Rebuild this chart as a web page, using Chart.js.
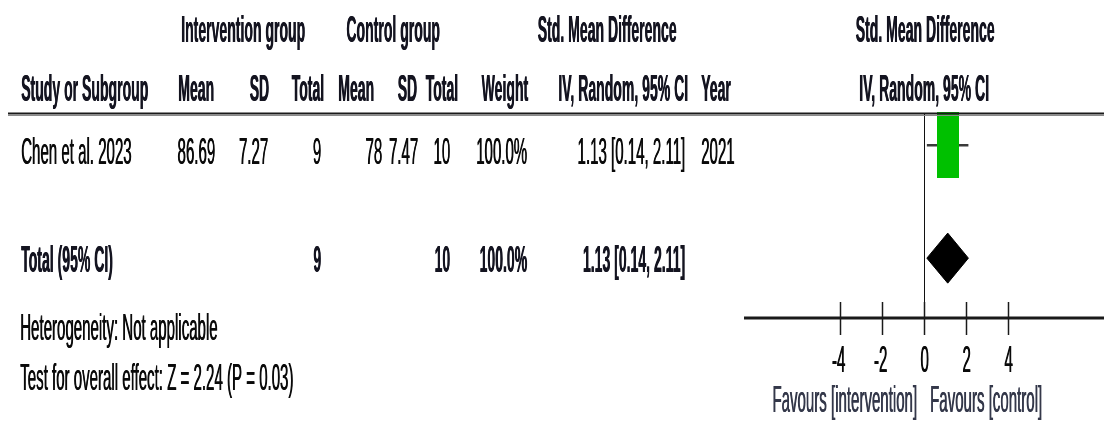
<!DOCTYPE html>
<html>
<head>
<meta charset="utf-8">
<title>Forest plot</title>
<script src="https://cdn.jsdelivr.net/npm/chart.js@4.4.0/dist/chart.umd.min.js"></script>
<style>
  html, body { margin: 0; padding: 0; background: #fff; }
</style>
</head>
<body>
<canvas id="forest" width="1104" height="429"></canvas>
<script>
// === data ===
const studies = ["Chen et al. 2023"];
const intMean = [86.69];
const intSD = [7.27];
const intTotal = [9];
const ctrlMean = [78];
const ctrlSD = [7.47];
const ctrlTotal = [10];
const weights = [100.0];
const smd = [1.13];
const ciLow = [0.14];
const ciHigh = [2.11];
const years = [2021];

// pooled (random effects) result
const totalLabel = "Total (95% CI)";
const totalInt = 9;
const totalCtrl = 10;
const totalWeight = 100.0;
const totalSmd = 1.13;
const totalLow = 0.14;
const totalHigh = 2.11;

const footerLines = ["Heterogeneity: Not applicable", "Test for overall effect: Z = 2.24 (P = 0.03)"];
const axisTicks = [-4, -2, 0, 2, 4];
const favours = ["Favours [intervention]", "Favours [control]"];

// === layout / style ===
const FONT = "'Liberation Sans', Arial, sans-serif";
const FONT_SIZE = 36;
const SQUISH = 0.418;        // regular text is very condensed in the original
const SQUISH_BOLD = 0.39;
const BOX_W = 22, BOX_H = 66;  // study square (weight 100%)
const DIAMOND_HALF = 0.443;    // in row units
const TOTAL_ROW = studies.length + 2;

function drawText(ctx, str, x, y, align, bold, color) {
  ctx.save();
  ctx.font = (bold ? "bold " : "") + FONT_SIZE + "px " + FONT;
  ctx.fillStyle = color || "#0a0a0a";
  ctx.textBaseline = "alphabetic";
  ctx.textAlign = align;
  ctx.translate(x, y);
  ctx.scale(bold ? SQUISH_BOLD : SQUISH, 1);
  ctx.fillText(str, 0, 0);
  // second pass a hair to the right: the original stems are a bit heavier
  ctx.fillText(str, bold ? 1.0 : 1.1, 0);
  ctx.restore();
}

function makeBox(w, h, color) {
  const c = document.createElement("canvas");
  c.width = w;
  c.height = h;
  const g = c.getContext("2d");
  g.fillStyle = color;
  g.fillRect(0, 0, w, h);
  return c;
}

const ciText = (m, l, h) => m.toFixed(2) + " [" + l.toFixed(2) + ", " + h.toFixed(2) + "]";

// table on the left + header lines
const tablePlugin = {
  id: "table",
  afterDraw(chart) {
    const ctx = chart.ctx;
    const H = "#141420";

    // header
    drawText(ctx, "Intervention group", 243, 42, "center", true, H);
    drawText(ctx, "Control group", 393, 42, "center", true, H);
    drawText(ctx, "Std. Mean Difference", 607, 42, "center", true, H);
    drawText(ctx, "Std. Mean Difference", 925, 42, "center", true, H);

    drawText(ctx, "Study or Subgroup", 21, 101, "left", true, H);
    drawText(ctx, "Mean", 214, 101, "right", true, H);
    drawText(ctx, "SD", 269, 101, "right", true, H);
    drawText(ctx, "Total", 324, 101, "right", true, H);
    drawText(ctx, "Mean", 374, 101, "right", true, H);
    drawText(ctx, "SD", 417, 101, "right", true, H);
    drawText(ctx, "Total", 458, 101, "right", true, H);
    drawText(ctx, "Weight", 528, 101, "right", true, H);
    drawText(ctx, "IV, Random, 95% CI", 688, 101, "right", true, H);
    drawText(ctx, "Year", 701, 101, "left", true, H);
    drawText(ctx, "IV, Random, 95% CI", 924, 101, "center", true, H);

    // double rule under the header
    ctx.save();
    ctx.strokeStyle = "#1a1a1a";
    ctx.lineWidth = 2;
    ctx.beginPath();
    ctx.moveTo(8, 113.5);
    ctx.lineTo(1104, 113.5);
    ctx.stroke();
    ctx.strokeStyle = "#8a8a8a";
    ctx.lineWidth = 1;
    ctx.beginPath();
    ctx.moveTo(8, 115.5);
    ctx.lineTo(1104, 115.5);
    ctx.stroke();
    ctx.restore();

    // study rows
    studies.forEach((name, i) => {
      const y = 164 + i * 56;
      drawText(ctx, name, 21, y, "left");
      drawText(ctx, String(intMean[i]), 215, y, "right");
      drawText(ctx, String(intSD[i]), 268, y, "right");
      drawText(ctx, String(intTotal[i]), 321, y, "right");
      drawText(ctx, String(ctrlMean[i]), 382, y, "right");
      drawText(ctx, String(ctrlSD[i]), 418, y, "right");
      drawText(ctx, String(ctrlTotal[i]), 450, y, "right");
      drawText(ctx, weights[i].toFixed(1) + "%", 527, y, "right");
      drawText(ctx, ciText(smd[i], ciLow[i], ciHigh[i]), 685, y, "right");
      drawText(ctx, String(years[i]), 701, y, "left");
    });

    // total row
    drawText(ctx, totalLabel, 21, 272, "left", true, H);
    drawText(ctx, String(totalInt), 321, 272, "right", true, H);
    drawText(ctx, String(totalCtrl), 450, 272, "right", true, H);
    drawText(ctx, totalWeight.toFixed(1) + "%", 527, 272, "right", true, H);
    drawText(ctx, ciText(totalSmd, totalLow, totalHigh), 685, 272, "right", true, H);

    // footer
    drawText(ctx, footerLines[0], 20, 340, "left");
    drawText(ctx, footerLines[1], 20, 390, "left");
  }
};

// zero line, axis, ticks and favours labels
const axisPlugin = {
  id: "forestAxis",
  beforeDatasetsDraw(chart) {
    const ctx = chart.ctx;
    const xs = chart.scales.x;
    const area = chart.chartArea;
    const x0 = Math.round(xs.getPixelForValue(0)) + 0.5;
    ctx.save();
    ctx.strokeStyle = "#111";
    ctx.lineWidth = 1;
    ctx.beginPath();
    ctx.moveTo(x0, area.top);
    ctx.lineTo(x0, area.bottom);
    ctx.stroke();
    ctx.restore();
  },
  afterDraw(chart) {
    const ctx = chart.ctx;
    const xs = chart.scales.x;
    const area = chart.chartArea;
    const yAxis = area.bottom;
    ctx.save();
    ctx.strokeStyle = "#1a1a1a";
    ctx.lineWidth = 3;
    ctx.beginPath();
    ctx.moveTo(area.left, yAxis);
    ctx.lineTo(1104, yAxis);
    ctx.stroke();

    ctx.lineWidth = 1.5;
    axisTicks.forEach((t) => {
      const px = Math.round(xs.getPixelForValue(t)) + 0.5;
      ctx.beginPath();
      ctx.moveTo(px, yAxis - 16);
      ctx.lineTo(px, yAxis + 17);
      ctx.stroke();
      drawText(ctx, String(t), px + (t < 0 ? -2 : 0), 372, "center");
    });
    ctx.restore();

    const x0 = xs.getPixelForValue(0);
    drawText(ctx, favours[0], x0 - 7, 412, "right", false, "#34384a");
    drawText(ctx, favours[1], x0 + 6, 412, "left", false, "#34384a");
  }
};

const squareData = smd.map((m, i) => ({ x: m, y: i + 1 }));
const whiskerSets = smd.map((m, i) => ({
  label: "CI " + studies[i],
  data: [{ x: ciLow[i], y: i + 1 }, { x: ciHigh[i], y: i + 1 }],
  borderColor: "#3a3a3a",
  borderWidth: 2.5,
  pointRadius: 0,
  order: 2,
}));

const diamondData = [
  { x: totalLow, y: TOTAL_ROW },
  { x: totalSmd, y: TOTAL_ROW - DIAMOND_HALF },
  { x: totalHigh, y: TOTAL_ROW },
  { x: totalSmd, y: TOTAL_ROW + DIAMOND_HALF },
  { x: totalLow, y: TOTAL_ROW },
];

const chart = new Chart(document.getElementById("forest"), {
  type: "line",
  data: {
    datasets: [
      {
        label: "Studies",
        data: squareData,
        showLine: false,
        pointStyle: makeBox(BOX_W, BOX_H, "#00c000"),
        pointRadius: 0.2,
        pointBorderWidth: 0,
        pointHoverRadius: 0,
        order: 0,
        clip: false,
      },
      ...whiskerSets,
      {
        label: "Total",
        data: diamondData,
        borderColor: "#000",
        backgroundColor: "#000",
        borderWidth: 1,
        fill: "shape",
        tension: 0,
        pointRadius: 0,
        order: 1,
      },
    ],
  },
  options: {
    responsive: false,
    animation: false,
    events: [],
    layout: { padding: { left: 744, right: 0, top: 113, bottom: 111 } },
    plugins: {
      legend: { display: false },
      tooltip: { enabled: false },
    },
    scales: {
      x: { type: "linear", min: -8.53, max: 8.53, display: false },
      y: { type: "linear", min: 0.43, max: 4.06, reverse: true, display: false },
    },
  },
  plugins: [tablePlugin, axisPlugin],
});
</script>
</body>
</html>
